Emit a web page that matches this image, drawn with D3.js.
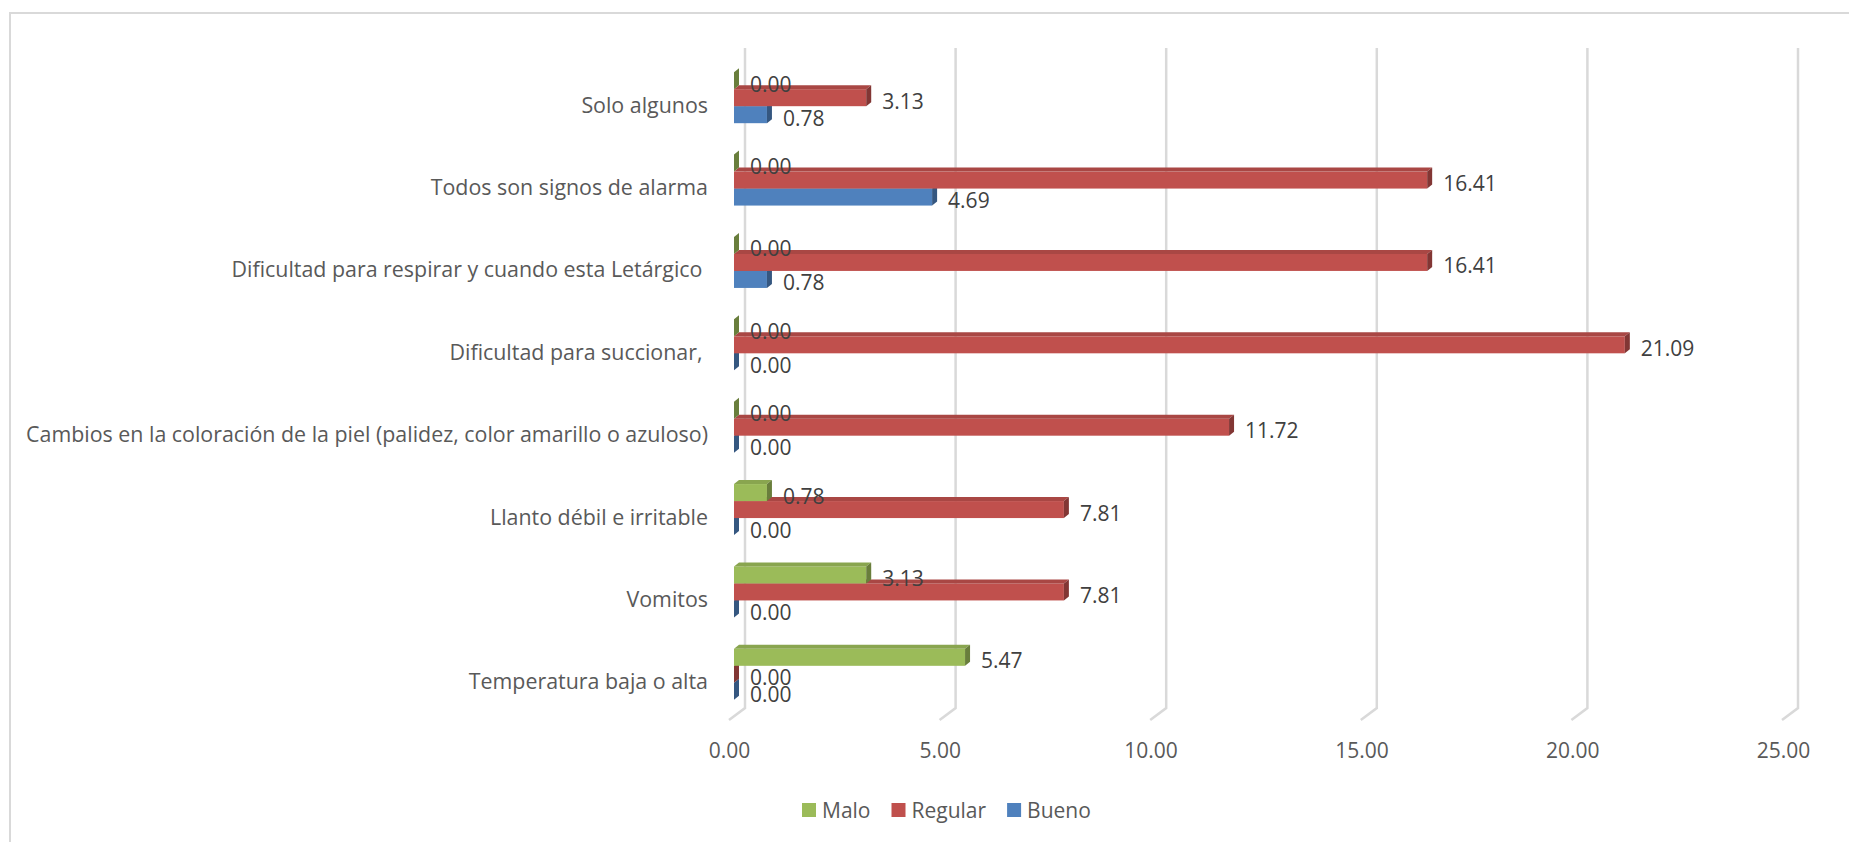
<!DOCTYPE html>
<html>
<head>
<meta charset="utf-8">
<script src="https://cdn.jsdelivr.net/npm/d3@7"></script>
<style>
  body { margin: 0; background: #fff; }
  text { font-family: "Open Sans", sans-serif; }
  .cat { white-space: pre; }
</style>
</head>
<body>
<svg id="chart" width="1849" height="842"></svg>
<script>
// Categories, top to bottom
const categories = [
  "Solo algunos",
  "Todos son signos de alarma",
  "Dificultad para respirar y cuando esta Letárgico ",
  "Dificultad para succionar, ",
  "Cambios en la coloración de la piel (palidez, color amarillo o azuloso)",
  "Llanto débil e irritable",
  "Vomitos",
  "Temperatura baja o alta"
];
const seriesNames = ["Malo", "Regular", "Bueno"];
const malo    = [0, 0, 0, 0, 0, 0.78, 3.13, 5.47];
const regular = [3.13, 16.41, 16.41, 21.09, 11.72, 7.81, 7.81, 0];
const bueno   = [0.78, 4.69, 0.78, 0, 0, 0, 0, 0];
const xTicks  = [0, 5, 10, 15, 20, 25];
const seriesColors = ["#9BBB59", "#C0504D", "#4F81BD"];

const seriesValues = [malo, regular, bueno];
const fmt = d3.format(".2f");
const svg = d3.select("#chart");

// Outer chart frame
svg.append("rect")
  .attr("x", 10).attr("y", 13).attr("width", 1900).attr("height", 900)
  .attr("fill", "none").attr("stroke", "#d9d9d9").attr("stroke-width", 2);

// Scales: front plane of the bars, back wall (gridlines), floor edge (tick labels)
const xFront = d3.scaleLinear().domain([0, 25]).range([734, 1790]);
const xBack  = d3.scaleLinear().domain([0, 25]).range([745, 1798]);
const xFloor = d3.scaleLinear().domain([0, 25]).range([729, 1783]);
const y = d3.scaleBand().domain(categories).range([63, 722]);
const ySeries = d3.scaleBand().domain(seriesNames).range([-32, 19]);
const depthX = 5, depthY = 4;

// Back-wall gridlines with their floor segment
const grid = svg.append("g");
xTicks.forEach(v => {
  const xb = xBack(v);
  grid.append("path")
    .attr("d", `M${xb},48 L${xb},708 L${xb - 16},720`)
    .attr("fill", "none").attr("stroke", "#d9d9d9").attr("stroke-width", 2.5);
});

// Axis tick labels
const axis = d3.axisBottom(xFloor).tickValues(xTicks).tickFormat(fmt).tickSize(0);
const axisG = svg.append("g").attr("transform", "translate(0,740)").call(axis);
axisG.select(".domain").remove();
axisG.selectAll("text")
  .attr("fill", "#595959").attr("font-size", 21)
  .style("font-family", "'Open Sans', sans-serif");

// Category labels
svg.append("g").selectAll("text").data(categories).join("text")
  .attr("class", "cat")
  .attr("x", 708)
  .attr("y", d => y(d) + y.bandwidth() / 2)
  .attr("text-anchor", "end")
  .attr("dominant-baseline", "central")
  .attr("font-size", 21.4)
  .attr("fill", "#595959")
  .text(d => d);

// 3D bars: draw the lowest series first so upper bars cover their neighbours' top faces
const bars = svg.append("g");
const barH = ySeries.bandwidth();
for (let s = seriesNames.length - 1; s >= 0; s--) {
  const base = d3.color(seriesColors[s]);
  const topCol = base.darker(0.35).formatHex();
  const sideCol = base.darker(1.1).formatHex();
  categories.forEach((c, i) => {
    const v = seriesValues[s][i];
    const x0 = xFront(0), x1 = xFront(v);
    const yt = y(c) + y.bandwidth() / 2 + ySeries(seriesNames[s]);
    const g = bars.append("g");
    if (x1 > x0) {
      g.append("rect").attr("x", x0).attr("y", yt).attr("width", x1 - x0).attr("height", barH)
        .attr("fill", seriesColors[s]);
      g.append("path")
        .attr("d", `M${x0},${yt} L${x0 + depthX},${yt - depthY} L${x1 + depthX},${yt - depthY} L${x1},${yt} Z`)
        .attr("fill", topCol);
    }
    g.append("path")
      .attr("d", `M${x1},${yt} L${x1 + depthX},${yt - depthY} L${x1 + depthX},${yt - depthY + barH} L${x1},${yt + barH} Z`)
      .attr("fill", sideCol);
  });
}

// Value labels
const labels = svg.append("g");
seriesNames.forEach((name, s) => {
  categories.forEach((c, i) => {
    const v = seriesValues[s][i];
    labels.append("text")
      .attr("x", xFront(v) + 16)
      .attr("y", y(c) + y.bandwidth() / 2 + ySeries(name) + barH / 2 + 3)
      .attr("dominant-baseline", "central")
      .attr("font-size", 21)
      .attr("fill", "#404040")
      .text(fmt(v));
  });
});

// Legend
const legend = svg.append("g").attr("transform", "translate(802,810)");
let lx = 0;
seriesNames.forEach((name, s) => {
  legend.append("rect").attr("x", lx).attr("y", -7).attr("width", 14).attr("height", 14)
    .attr("fill", seriesColors[s]);
  const t = legend.append("text").attr("x", lx + 20).attr("y", 0)
    .attr("dominant-baseline", "central").attr("font-size", 21).attr("fill", "#595959")
    .text(name);
  lx += 20 + t.node().getComputedTextLength() + 21;
});
</script>
</body>
</html>
